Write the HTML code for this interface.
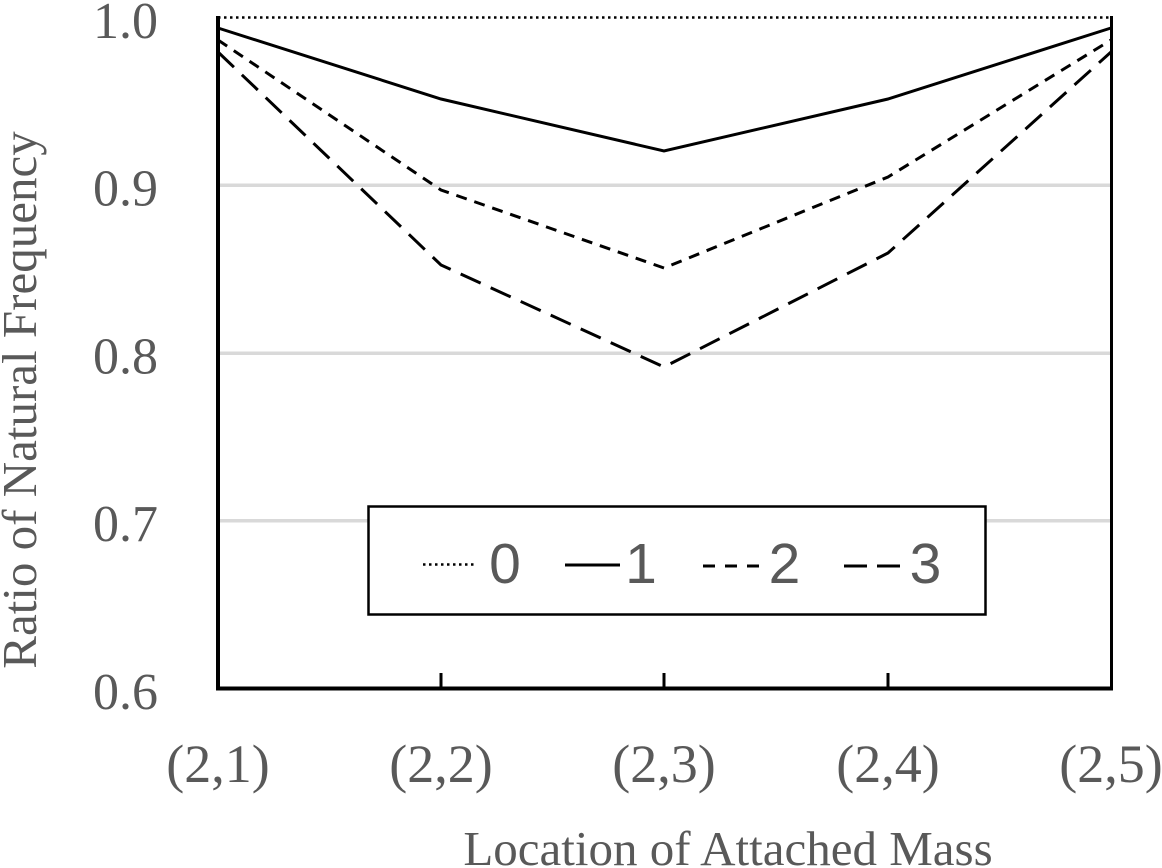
<!DOCTYPE html>
<html><head><meta charset="utf-8"><style>
html,body{margin:0;padding:0;background:#fff;}
svg{display:block;}
text{font-family:"Liberation Serif",serif;fill:#595959;}
</style></head><body>
<svg width="1162" height="868" viewBox="0 0 1162 868" xmlns="http://www.w3.org/2000/svg">
<!-- gridlines -->
<g stroke="#d9d9d9" stroke-width="3.5">
<line x1="218" y1="185.3" x2="1111" y2="185.3"/>
<line x1="218" y1="353.2" x2="1111" y2="353.2"/>
<line x1="218" y1="520.8" x2="1111" y2="520.8"/>
</g>
<!-- series -->
<g fill="none" stroke="#000" stroke-linejoin="miter">
<polyline points="218,17.5 1111,17.5" stroke-width="2.5" stroke-dasharray="2.5,3.5"/>
<polyline points="218,28 441,99 664,151 888,99 1111,28" stroke-width="3"/>
<polyline points="218,40 441,190 664,268 888,177 1111,40" stroke-width="3" stroke-dasharray="11,8"/>
<polyline points="218,52 441,265 664,367 888,253 1111,52" stroke-width="3" stroke-dasharray="22,11"/>
</g>
<!-- axes -->
<g stroke="#000" fill="none">
<line x1="218" y1="16" x2="218" y2="690.5" stroke-width="4"/>
<line x1="216" y1="688.5" x2="1113" y2="688.5" stroke-width="4"/>
<line x1="1111.5" y1="16" x2="1111.5" y2="690" stroke-width="3"/>
<line x1="441" y1="673" x2="441" y2="688" stroke-width="3"/>
<line x1="664" y1="673" x2="664" y2="688" stroke-width="3"/>
<line x1="888" y1="673" x2="888" y2="688" stroke-width="3"/>
</g>
<!-- y tick labels -->
<g font-size="52" text-anchor="end">
<text x="158" y="38">1.0</text>
<text x="158" y="205.5">0.9</text>
<text x="158" y="373.5">0.8</text>
<text x="158" y="541">0.7</text>
<text x="158" y="709">0.6</text>
</g>
<!-- x tick labels -->
<g font-size="54" text-anchor="middle">
<text x="218" y="782">(2,1)</text>
<text x="441" y="782">(2,2)</text>
<text x="664" y="782">(2,3)</text>
<text x="888" y="782">(2,4)</text>
<text x="1111" y="782">(2,5)</text>
</g>
<!-- axis titles -->
<text x="728" y="865" font-size="49" text-anchor="middle">Location of Attached Mass</text>
<text transform="translate(36,400) rotate(-90)" x="0" y="0" font-size="49" text-anchor="middle">Ratio of Natural Frequency</text>
<!-- legend -->
<rect x="368.5" y="506.5" width="617" height="108" fill="#fff" stroke="#000" stroke-width="2.5"/>
<g fill="none" stroke="#000" stroke-width="3">
<line x1="423" y1="564.5" x2="476" y2="564.5" stroke-width="2.5" stroke-dasharray="2.5,3.5"/>
<line x1="565" y1="565" x2="620" y2="565"/>
<line x1="703" y1="566" x2="759" y2="566" stroke-dasharray="12,10"/>
<line x1="844" y1="566" x2="900" y2="566" stroke-dasharray="23,10"/>
</g>
<g font-size="57" text-anchor="middle">
<text x="505" y="583" style="font-family:'Liberation Sans',sans-serif">0</text>
<text x="641" y="583" style="font-family:'Liberation Sans',sans-serif">1</text>
<text x="784.5" y="583" style="font-family:'Liberation Sans',sans-serif">2</text>
<text x="925.5" y="583" style="font-family:'Liberation Sans',sans-serif">3</text>
</g>
</svg>
</body></html>
